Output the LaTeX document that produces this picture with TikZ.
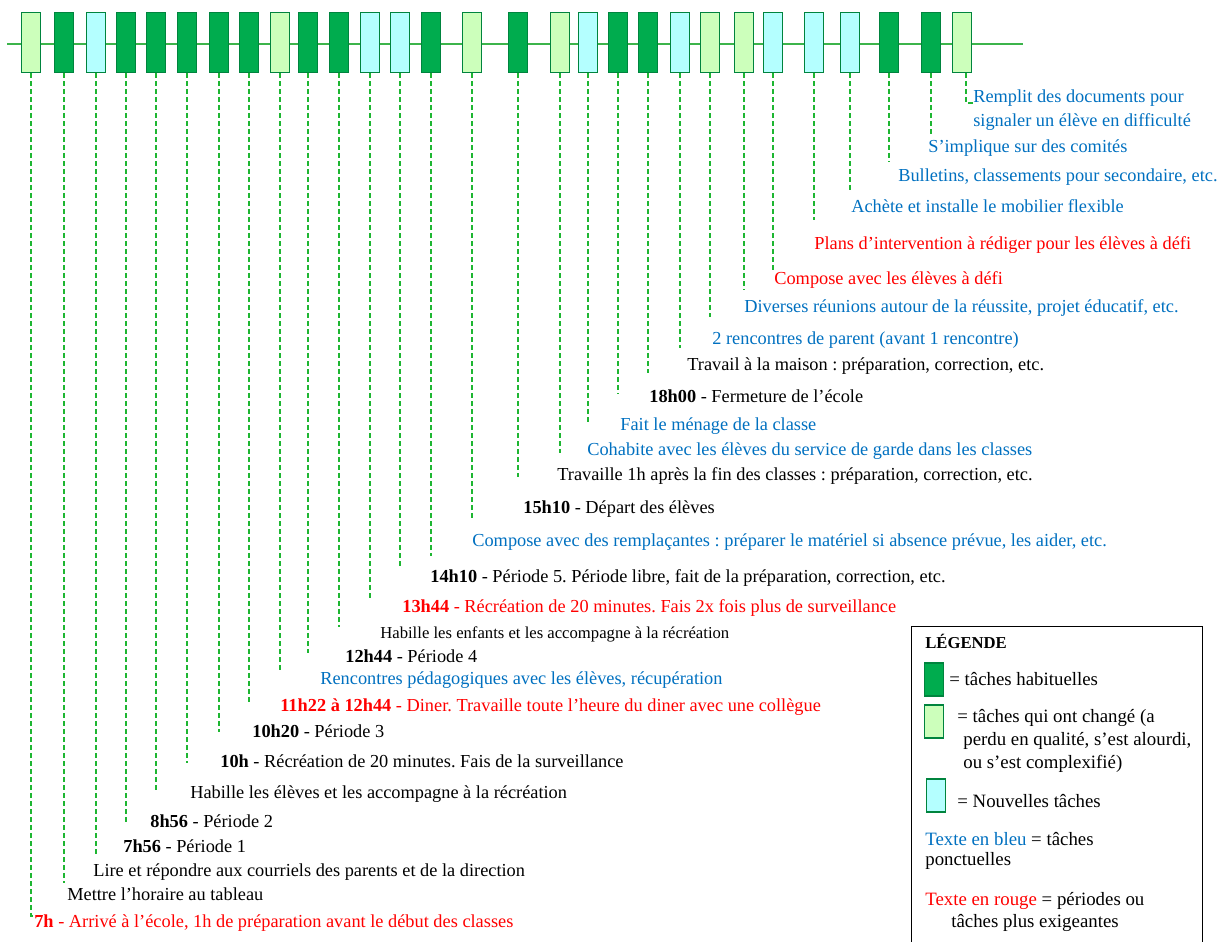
\documentclass[tikz,border=0pt]{standalone}
\usepackage{fontspec}
\setmainfont{Liberation Serif}
\usepackage{xcolor}
\usepackage{tikz}

\definecolor{vertfonce}{RGB}{0,172,78}
\definecolor{vertbord}{RGB}{0,132,62}
\definecolor{vertpale}{RGB}{204,255,187}
\definecolor{cyanpale}{RGB}{180,255,255}
\definecolor{vertaxe}{RGB}{60,180,75}
\definecolor{vertpoint}{RGB}{30,182,50}
\definecolor{bleutxt}{RGB}{0,112,192}
\definecolor{rougetxt}{RGB}{255,0,0}
\newcommand{\txtfont}{\fontsize{11pt}{14pt}\selectfont}
\newcommand{\petitfont}{\fontsize{10pt}{12pt}\selectfont}
\newcommand{\lgdfont}{\fontsize{11.3pt}{13.8pt}\selectfont}
\frenchspacing

\begin{document}
\begin{tikzpicture}[
  x=0.6pt,y=-0.6pt,
  boxhab/.style={draw=vertbord,fill=vertfonce,line width=1pt,minimum width=11.4pt,minimum height=36pt,inner sep=0pt},
  boxchg/.style={boxhab,fill=vertpale},
  boxnew/.style={boxhab,fill=cyanpale},
  lien/.style={draw=vertpoint,line width=0.8pt,dash pattern=on 3pt off 1.8pt},
  lbl/.style={anchor=base west,inner sep=0pt,font=\txtfont},
  lblbleu/.style={lbl,text=bleutxt},
  lblrouge/.style={lbl,text=rougetxt},
  lgd/.style={anchor=base west,inner sep=0pt,align=left,font=\lgdfont}
]
  \useasboundingbox (0,0) rectangle (1228,942);

  % ligne du temps
  \coordinate (axeG) at (7,44);
  \coordinate (axeD) at (1023,44);
  \draw[vertaxe,line width=1pt] (axeG) -- (axeD);

  % taches
  \node[boxchg] (b1) at (31,42.5) {};
  \node[boxhab] (b2) at (64,42.5) {};
  \node[boxnew] (b3) at (96,42.5) {};
  \node[boxhab] (b4) at (126,42.5) {};
  \node[boxhab] (b5) at (156,42.5) {};
  \node[boxhab] (b6) at (187,42.5) {};
  \node[boxhab] (b7) at (219,42.5) {};
  \node[boxhab] (b8) at (249,42.5) {};
  \node[boxchg] (b9) at (280,42.5) {};
  \node[boxhab] (b10) at (308,42.5) {};
  \node[boxhab] (b11) at (339,42.5) {};
  \node[boxnew] (b12) at (370,42.5) {};
  \node[boxnew] (b13) at (400,42.5) {};
  \node[boxhab] (b14) at (431,42.5) {};
  \node[boxchg] (b15) at (472,42.5) {};
  \node[boxhab] (b16) at (518,42.5) {};
  \node[boxchg] (b17) at (560,42.5) {};
  \node[boxnew] (b18) at (588,42.5) {};
  \node[boxhab] (b19) at (618,42.5) {};
  \node[boxhab] (b20) at (648,42.5) {};
  \node[boxnew] (b21) at (680,42.5) {};
  \node[boxchg] (b22) at (710,42.5) {};
  \node[boxchg] (b23) at (744,42.5) {};
  \node[boxnew] (b24) at (773,42.5) {};
  \node[boxnew] (b25) at (814,42.5) {};
  \node[boxnew] (b26) at (850,42.5) {};
  \node[boxhab] (b27) at (889,42.5) {};
  \node[boxhab] (b28) at (931,42.5) {};
  \node[boxchg] (b29) at (962,42.5) {};

  % textes
  \node[lblrouge] (t1) at (34,927) {\textbf{7h} - Arrivé à l'école, 1h de préparation avant le début des classes};
  \node[lbl] (t2) at (67,900) {Mettre l'horaire au tableau};
  \node[lbl] (t3) at (93,876) {Lire et répondre aux courriels des parents et de la direction};
  \node[lbl] (t4) at (123,852) {\textbf{7h56} - Période 1};
  \node[lbl] (t5) at (150,827) {\textbf{8h56} - Période 2};
  \node[lbl] (t6) at (190,798) {Habille les élèves et les accompagne à la récréation};
  \node[lbl] (t7) at (220,767) {\textbf{10h} - Récréation de 20 minutes. Fais de la surveillance};
  \node[lbl] (t8) at (252,737) {\textbf{10h20} - Période 3};
  \node[lblrouge] (t9) at (280,711) {\textbf{11h22 à 12h44} - Diner. Travaille toute l'heure du diner avec une collègue};
  \node[lblbleu] (t10) at (320,684) {Rencontres pédagogiques avec les élèves, récupération};
  \node[lbl] (t11) at (345,662) {\textbf{12h44} - Période 4};
  \node[lbl,font=\petitfont] (t12) at (380,638) {Habille les enfants et les accompagne à la récréation};
  \node[lblrouge] (t13) at (402,612) {\textbf{13h44} - Récréation de 20 minutes. Fais 2x fois plus de surveillance};
  \node[lbl] (t14) at (430,582) {\textbf{14h10} - Période 5. Période libre, fait de la préparation, correction, etc.};
  \node[lblbleu] (t15) at (472,546) {Compose avec des remplaçantes : préparer le matériel si absence prévue, les aider, etc.};
  \node[lbl] (t16) at (523,513) {\textbf{15h10} - Départ des élèves};
  \node[lbl] (t17) at (557,480) {Travaille 1h après la fin des classes : préparation, correction, etc.};
  \node[lblbleu] (t18) at (587,455) {Cohabite avec les élèves du service de garde dans les classes};
  \node[lblbleu] (t19) at (620,430) {Fait le ménage de la classe};
  \node[lbl] (t20) at (649,402) {\textbf{18h00} - Fermeture de l'école};
  \node[lbl] (t21) at (687,370) {Travail à la maison : préparation, correction, etc.};
  \node[lblbleu] (t22) at (712,345) {2 rencontres de parent (avant 1 rencontre)};
  \node[lblbleu] (t23) at (744,313) {Diverses réunions autour de la réussite, projet éducatif, etc.};
  \node[lblrouge] (t24) at (774,285) {Compose avec les élèves à défi};
  \node[lblrouge] (t25) at (814,250) {Plans d'intervention à rédiger pour les élèves à défi};
  \node[lblbleu] (t26) at (851,213) {Achète et installe le mobilier flexible};
  \node[lblbleu] (t27) at (898,182) {Bulletins, classements pour secondaire, etc.};
  \node[lblbleu] (t28) at (928,153) {S'implique sur des comités};
  \node[lblbleu,align=left,font=\fontsize{11pt}{14.4pt}\selectfont] (t29) at (973,127) {Remplit des documents pour\\signaler un élève en difficulté};

  % fins des traits
  \coordinate (e1) at (34,916);   \coordinate (e2) at (64,883);   \coordinate (e3) at (96,857);
  \coordinate (e4) at (126,824);  \coordinate (e5) at (156,790);  \coordinate (e6) at (187,763);
  \coordinate (e7) at (219,732);  \coordinate (e8) at (249,702);  \coordinate (e9) at (280,670);
  \coordinate (e10) at (308,653); \coordinate (e11) at (339,627); \coordinate (e12) at (370,599);
  \coordinate (e13) at (400,568); \coordinate (e14) at (431,556); \coordinate (e15) at (472,519);
  \coordinate (e16) at (518,477); \coordinate (e17) at (560,453); \coordinate (e18) at (588,422);
  \coordinate (e19) at (618,394); \coordinate (e20) at (648,373); \coordinate (e21) at (680,348);
  \coordinate (e22) at (710,317); \coordinate (e23) at (744,290); \coordinate (e24) at (773,270);
  \coordinate (e25) at (814,220); \coordinate (e26) at (850,190); \coordinate (e27) at (889,162);
  \coordinate (e28) at (931,135); \coordinate (e29) at (973,103);

  \draw[lien] (b1.south) |- (e1);
  \draw[lien] (b2.south) -- (e2);
  \draw[lien] (b3.south) -- (e3);
  \draw[lien] (b4.south) -- (e4);
  \draw[lien] (b5.south) -- (e5);
  \draw[lien] (b6.south) -- (e6);
  \draw[lien] (b7.south) -- (e7);
  \draw[lien] (b8.south) -- (e8);
  \draw[lien] (b9.south) -- (e9);
  \draw[lien] (b10.south) -- (e10);
  \draw[lien] (b11.south) -- (e11);
  \draw[lien] (b12.south) -- (e12);
  \draw[lien] (b13.south) -- (e13);
  \draw[lien] (b14.south) -- (e14);
  \draw[lien] (b15.south) -- (e15);
  \draw[lien] (b16.south) -- (e16);
  \draw[lien] (b17.south) -- (e17);
  \draw[lien] (b18.south) -- (e18);
  \draw[lien] (b19.south) -- (e19);
  \draw[lien] (b20.south) -- (e20);
  \draw[lien] (b21.south) -- (e21);
  \draw[lien] (b22.south) -- (e22);
  \draw[lien] (b23.south) -- (e23);
  \draw[lien] (b24.south) -- (e24);
  \draw[lien] (b25.south) -- (e25);
  \draw[lien] (b26.south) -- (e26);
  \draw[lien] (b27.south) -- (e27);
  \draw[lien] (b28.south) -- (e28);
  \draw[lien] ([xshift=2.4pt]b29.south) |- (e29);

  % legende
  \draw[black,line width=0.6pt] (911,626) rectangle (1202,970);
  \node[lgd,font=\fontsize{10pt}{12pt}\selectfont] (lgT) at (925,648) {\textbf{LÉGENDE}};
  \node[boxhab,minimum height=20pt] (lgbA) at (934,679.5) {};
  \node[lgd] (lgA) at (949,685) {= tâches habituelles};
  \node[boxchg,minimum height=20pt] (lgbB) at (934,721.5) {};
  \node[lgd] (lgB) at (957,768) {= tâches qui ont changé (a\\\hspace*{3.6pt}perdu en qualité, s'est alourdi,\\\hspace*{3.6pt}ou s'est complexifié)};
  \node[boxnew,minimum height=20pt] (lgbC) at (936,795.5) {};
  \node[lgd] (lgC) at (957,807) {= Nouvelles tâches};
  \node[lgd] (lgD) at (925,865) {\textcolor{bleutxt}{Texte en bleu} = tâches\\[-1.8pt]ponctuelles};
  \node[lgd] (lgE) at (925,927) {\textcolor{rougetxt}{Texte en rouge} = périodes ou\\[-0.6pt]\hspace*{15.6pt}tâches plus exigeantes};
\end{tikzpicture}
\end{document}
